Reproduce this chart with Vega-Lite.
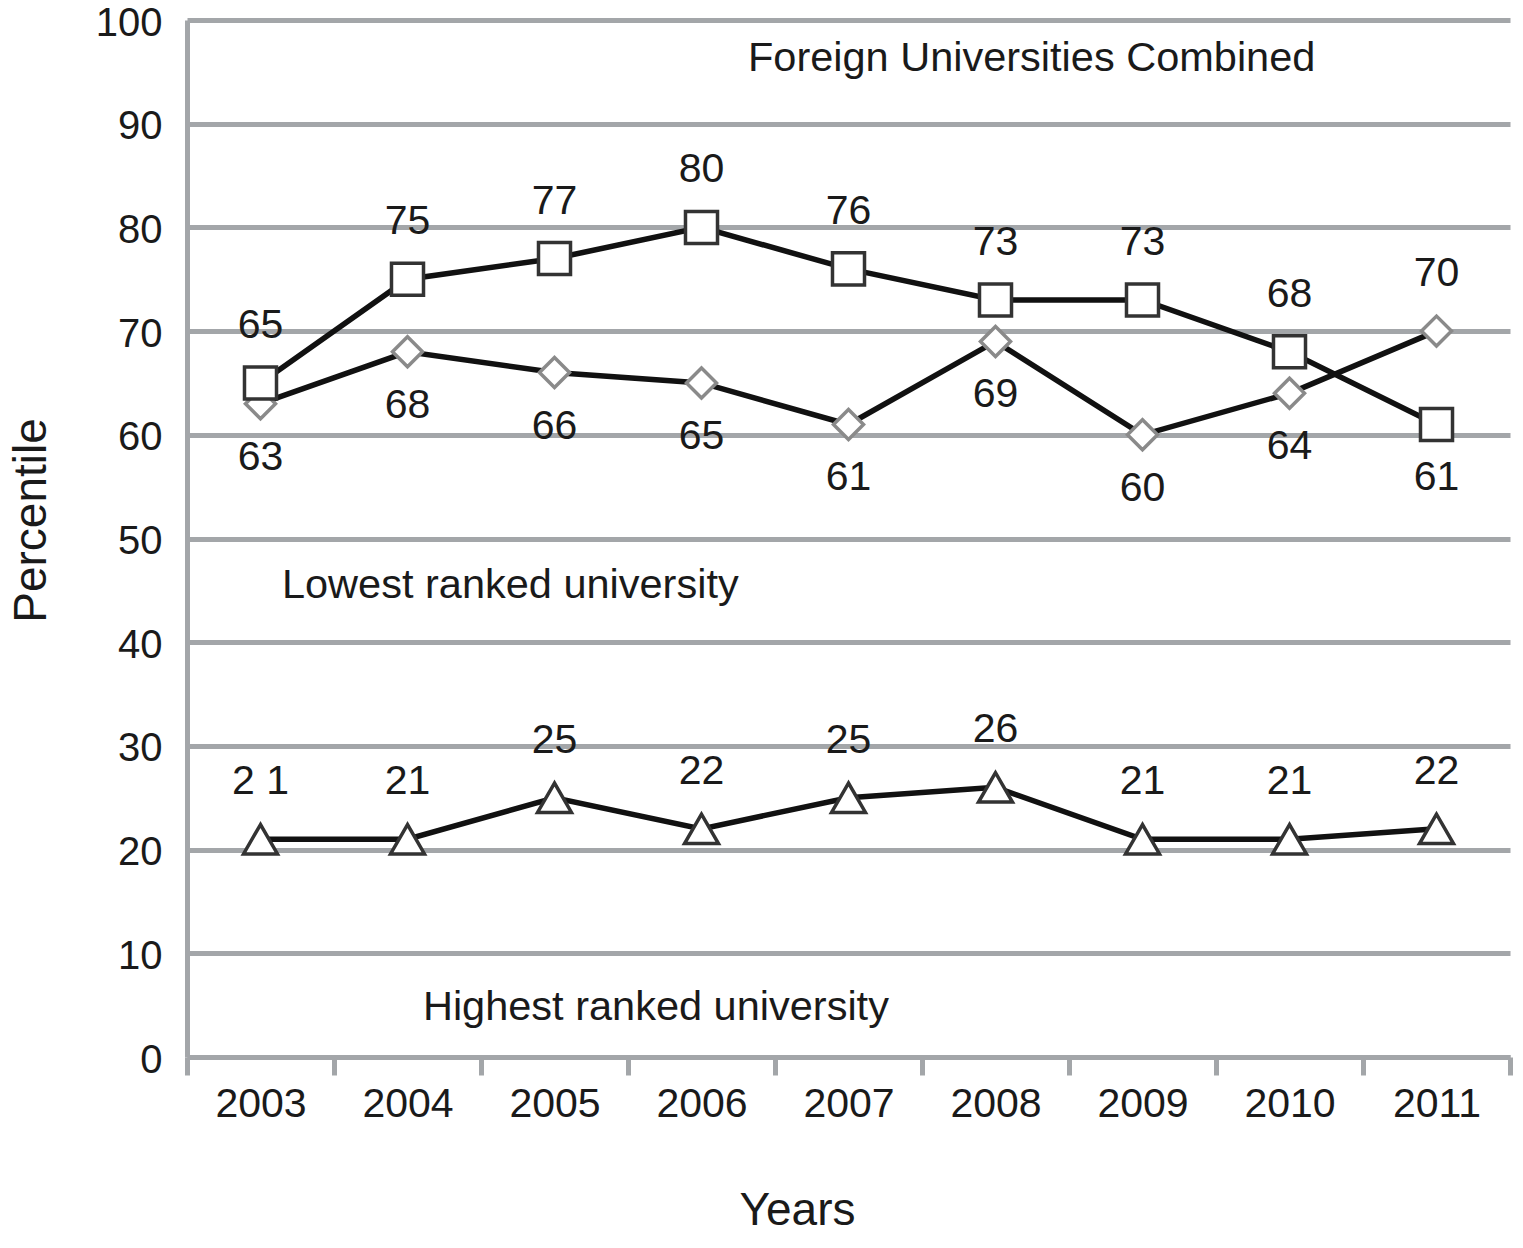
{
  "$schema": "https://vega.github.io/schema/vega-lite/v6.json",
  "width": 1323,
  "height": 1037,
  "autosize": {"type": "none"},
  "padding": {"left": 187, "top": 20, "right": 13, "bottom": 191},
  "background": "white",
  "config": {"view": {"stroke": null}, "font": "Liberation Sans"},
  "datasets": {
    "series": [
      {"series": "Lowest ranked university", "year": 2003, "value": 63, "side": "below", "label": "63"},
      {"series": "Lowest ranked university", "year": 2004, "value": 68, "side": "below", "label": "68"},
      {"series": "Lowest ranked university", "year": 2005, "value": 66, "side": "below", "label": "66"},
      {"series": "Lowest ranked university", "year": 2006, "value": 65, "side": "below", "label": "65"},
      {"series": "Lowest ranked university", "year": 2007, "value": 61, "side": "below", "label": "61"},
      {"series": "Lowest ranked university", "year": 2008, "value": 69, "side": "below", "label": "69"},
      {"series": "Lowest ranked university", "year": 2009, "value": 60, "side": "below", "label": "60"},
      {"series": "Lowest ranked university", "year": 2010, "value": 64, "side": "below", "label": "64"},
      {"series": "Lowest ranked university", "year": 2011, "value": 70, "side": "above", "label": "70"},
      {"series": "Foreign Universities Combined", "year": 2003, "value": 65, "side": "above", "label": "65"},
      {"series": "Foreign Universities Combined", "year": 2004, "value": 75, "side": "above", "label": "75"},
      {"series": "Foreign Universities Combined", "year": 2005, "value": 77, "side": "above", "label": "77"},
      {"series": "Foreign Universities Combined", "year": 2006, "value": 80, "side": "above", "label": "80"},
      {"series": "Foreign Universities Combined", "year": 2007, "value": 76, "side": "above", "label": "76"},
      {"series": "Foreign Universities Combined", "year": 2008, "value": 73, "side": "above", "label": "73"},
      {"series": "Foreign Universities Combined", "year": 2009, "value": 73, "side": "above", "label": "73"},
      {"series": "Foreign Universities Combined", "year": 2010, "value": 68, "side": "above", "label": "68"},
      {"series": "Foreign Universities Combined", "year": 2011, "value": 61, "side": "below", "label": "61"},
      {"series": "Highest ranked university", "year": 2003, "value": 21, "side": "above", "label": "2 1"},
      {"series": "Highest ranked university", "year": 2004, "value": 21, "side": "above", "label": "21"},
      {"series": "Highest ranked university", "year": 2005, "value": 25, "side": "above", "label": "25"},
      {"series": "Highest ranked university", "year": 2006, "value": 22, "side": "above", "label": "22"},
      {"series": "Highest ranked university", "year": 2007, "value": 25, "side": "above", "label": "25"},
      {"series": "Highest ranked university", "year": 2008, "value": 26, "side": "above", "label": "26"},
      {"series": "Highest ranked university", "year": 2009, "value": 21, "side": "above", "label": "21"},
      {"series": "Highest ranked university", "year": 2010, "value": 21, "side": "above", "label": "21"},
      {"series": "Highest ranked university", "year": 2011, "value": 22, "side": "above", "label": "22"}
    ],
    "notes": [
      {"year": 2006.316, "value": 96.2, "text": "Foreign Universities Combined"},
      {"year": 2003.146, "value": 45.4, "text": "Lowest ranked university"},
      {"year": 2004.105, "value": 4.7, "text": "Highest ranked university"}
    ]
  },
  "data": {"name": "series"},
  "encoding": {
    "x": {
      "field": "year",
      "type": "quantitative",
      "scale": {"domain": [2002.5, 2011.5], "nice": false, "zero": false},
      "axis": {
        "title": "Years",
        "values": [2002.5, 2003.5, 2004.5, 2005.5, 2006.5, 2007.5, 2008.5, 2009.5, 2010.5, 2011.5],
        "labelExpr": "datum.value > 2011 ? '' : format(datum.value + 0.5, 'd')",
        "labelOffset": 73.5,
        "labelFlush": false,
        "labelOverlap": false,
        "labelBound": false,
        "grid": false,
        "domainColor": "#a3a6a9",
        "domainWidth": 5,
        "tickColor": "#a3a6a9",
        "tickWidth": 5,
        "tickSize": 18,
        "labelPadding": 9,
        "labelFontSize": 41,
        "labelColor": "#1a1a1a",
        "titleFontSize": 46,
        "titleFontWeight": "normal",
        "titleColor": "#1a1a1a",
        "titleX": 610,
        "titleY": 167,
        "titleBaseline": "alphabetic",
        "titleAlign": "center"
      }
    },
    "y": {
      "field": "value",
      "type": "quantitative",
      "scale": {"domain": [0, 100], "nice": false},
      "axis": {
        "title": "Percentile",
        "values": [0, 10, 20, 30, 40, 50, 60, 70, 80, 90, 100],
        "grid": true,
        "gridColor": "#a3a6a9",
        "gridWidth": 5,
        "domainColor": "#a3a6a9",
        "domainWidth": 5,
        "ticks": false,
        "labelPadding": 25,
        "labelOffset": 3,
        "labelFontSize": 40,
        "labelColor": "#1a1a1a",
        "titleFontSize": 46,
        "titleFontWeight": "normal",
        "titleColor": "#1a1a1a",
        "titleAngle": -90,
        "titleX": -142,
        "titleY": 500,
        "titleBaseline": "alphabetic",
        "titleAlign": "center"
      }
    }
  },
  "layer": [
    {
      "mark": {"type": "line", "color": "#111111", "strokeWidth": 5.5},
      "encoding": {"detail": {"field": "series"}}
    },
    {
      "mark": {"type": "point", "filled": true, "fill": "white", "opacity": 1, "strokeWidth": 3.5},
      "encoding": {
        "shape": {"field": "series", "scale": {"domain": ["Lowest ranked university", "Foreign Universities Combined", "Highest ranked university"], "range": ["diamond", "square", "triangle-up"]}, "legend": null},
        "size": {"field": "series", "scale": {"domain": ["Lowest ranked university", "Foreign Universities Combined", "Highest ranked university"], "range": [900, 1150, 1300]}, "legend": null},
        "stroke": {"field": "series", "scale": {"domain": ["Lowest ranked university", "Foreign Universities Combined", "Highest ranked university"], "range": ["#8a8a8a", "#333333", "#333333"]}, "legend": null}
      }
    },
    {
      "transform": [{"filter": "datum.side == 'above'"}],
      "mark": {"type": "text", "dy": -57, "baseline": "middle", "align": "center", "fontSize": 41, "color": "#1a1a1a"},
      "encoding": {"text": {"field": "label"}}
    },
    {
      "transform": [{"filter": "datum.side == 'below'"}],
      "mark": {"type": "text", "dy": 54, "baseline": "middle", "align": "center", "fontSize": 41, "color": "#1a1a1a"},
      "encoding": {"text": {"field": "label"}}
    },
    {
      "data": {"name": "notes"},
      "mark": {"type": "text", "baseline": "middle", "align": "left", "fontSize": 41.5, "color": "#1a1a1a"},
      "encoding": {"text": {"field": "text"}}
    }
  ]
}
